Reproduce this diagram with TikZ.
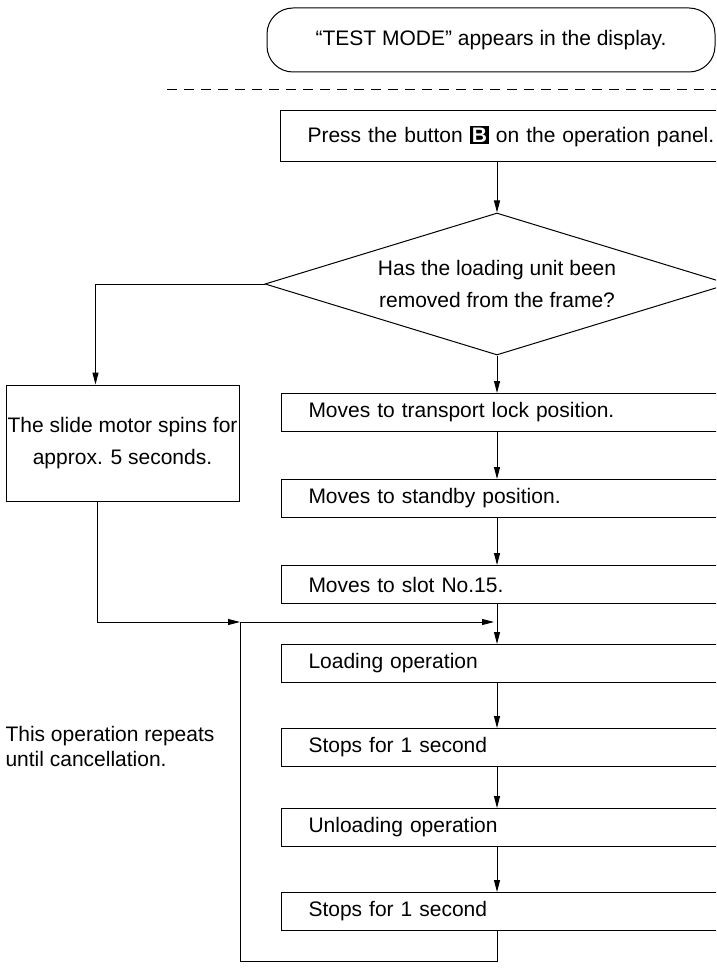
\documentclass[tikz,border=0pt]{standalone}
\usepackage{fontspec}
\setmainfont{Liberation Sans}
\usetikzlibrary{shapes.geometric,arrows.meta}

% black key cap used in the panel text
\newcommand{\panelkey}[1]{{\setlength{\fboxsep}{2pt}\colorbox{black}{\textcolor{white}{\bfseries #1}}}}

\begin{document}
\begin{tikzpicture}[x=1pt, y=-1pt, line width=1pt,
  every node/.style={font=\fontsize{21}{32}\selectfont},
  stepbox/.style={draw, rectangle, anchor=north west, minimum height=38pt,
    text width=440pt, inner xsep=27pt, inner ysep=0pt, align=left},
  flow/.style={-{Triangle[length=12pt,width=6pt]}}]

\useasboundingbox (0,0) rectangle (716,968);
\clip (0,0) rectangle (716,968);

\node[draw, rounded corners=26pt, minimum width=448pt, minimum height=64pt, inner sep=0] (start) at (491,40) {“TEST MODE” appears in the display.};

\draw[dash pattern=on 10pt off 7pt] (167,90) -- (716,90);

\node[stepbox, minimum height=51pt] (press) at (280,110) {Press the button \panelkey{B} on the operation panel.};

\node[draw, diamond, aspect=3.27, minimum width=464pt, minimum height=142pt, inner sep=0, align=center] (removed) at (497,284) {Has the loading unit been\\removed from the frame?};

% left branch
\node[draw, minimum width=233pt, minimum height=116pt, inner sep=0, align=center] (slide) at (122.5,443) {The slide motor spins for\\approx. 5 seconds.};

% right column
\node[stepbox] (lock)    at (281,393) {Moves to transport lock position.};
\node[stepbox] (standby) at (281,479) {Moves to standby position.};
\node[stepbox] (slot)    at (281,565) {Moves to slot No.15.};
\node[stepbox] (load)    at (281,644) {Loading operation};
\node[stepbox] (stop1)   at (281,728) {Stops for 1 second};
\node[stepbox] (unload)  at (281,808) {Unloading operation};
\node[stepbox] (stop2)   at (281,892) {Stops for 1 second};

\node[anchor=west, align=left, inner sep=0, font=\fontsize{21}{25}\selectfont] (repeat) at (5,746) {This operation repeats\\until cancellation.};

\coordinate (merge) at (240,622);
\coordinate (join) at (merge -| removed.south);

\draw[flow] (press.south -| removed.north) -- (removed.north);
\draw[flow] (removed.west) -| ([xshift=-27pt]slide.north);
\draw[flow] (removed.south) -- (lock.north -| removed.south);
\draw[flow] (lock.south -| removed.south) -- (standby.north -| removed.south);
\draw[flow] (standby.south -| removed.south) -- (slot.north -| removed.south);
\draw[flow] (slot.south -| removed.south) -- (load.north -| removed.south);
\draw[flow] (load.south -| removed.south) -- (stop1.north -| removed.south);
\draw[flow] (stop1.south -| removed.south) -- (unload.north -| removed.south);
\draw[flow] (unload.south -| removed.south) -- (stop2.north -| removed.south);

% merge and repeat loop
\draw[flow] ([xshift=-25pt]slide.south) |- (merge);
\draw[flow] (stop2.south -| removed.south) -- ++(0,30) -| (merge) -- ([xshift=-3pt]join);
\end{tikzpicture}
\end{document}
